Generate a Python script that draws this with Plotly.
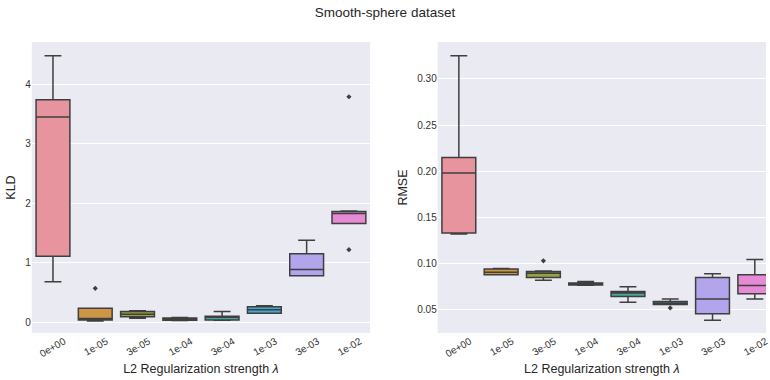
import plotly.graph_objects as go

categories = ["0e+00", "1e-05", "3e-05", "1e-04", "3e-04", "1e-03", "3e-03", "1e-02"]
colors = ["#e8949f", "#cd9645", "#9aa141", "#4ea36b", "#45a89e", "#47a7cf", "#b2a5eb", "#e68ad5"]

# KLD box statistics
kld_lo = [0.68, 0.02, 0.067, 0.03, 0.034, 0.15, 0.78, 1.66]
kld_q1 = [1.11, 0.04, 0.095, 0.034, 0.04, 0.15, 0.78, 1.66]
kld_med = [3.45, 0.065, 0.135, 0.05, 0.085, 0.21, 0.885, 1.83]
kld_q3 = [3.74, 0.235, 0.18, 0.073, 0.10, 0.26, 1.15, 1.86]
kld_hi = [4.48, 0.235, 0.195, 0.08, 0.18, 0.28, 1.38, 1.87]
kld_out_x = ["1e-05", "1e-02", "1e-02"]
kld_out_y = [0.57, 3.79, 1.22]

# RMSE box statistics
rmse_lo = [0.132, 0.088, 0.082, 0.0765, 0.058, 0.0558, 0.0385, 0.0615]
rmse_q1 = [0.133, 0.088, 0.085, 0.0767, 0.0644, 0.0558, 0.0457, 0.0673]
rmse_med = [0.198, 0.0907, 0.0896, 0.0778, 0.068, 0.057, 0.0615, 0.0763]
rmse_q3 = [0.215, 0.094, 0.0915, 0.079, 0.0698, 0.059, 0.085, 0.0878]
rmse_hi = [0.325, 0.0947, 0.092, 0.0806, 0.075, 0.0615, 0.089, 0.1044]
rmse_out_x = ["3e-05", "1e-03"]
rmse_out_y = [0.103, 0.052]

LINE = "#3f3f3f"
fig = go.Figure()

def add_boxes(lo, q1, med, q3, hi, ox, oy, xa, ya):
    for i, c in enumerate(categories):
        fig.add_trace(go.Box(
            x=[c], lowerfence=[lo[i]], q1=[q1[i]], median=[med[i]], q3=[q3[i]],
            upperfence=[hi[i]], width=0.8, whiskerwidth=0.5,
            fillcolor=colors[i], line=dict(color=LINE, width=1.5),
            boxpoints=False, showlegend=False, xaxis=xa, yaxis=ya, hoverinfo="skip"))
    fig.add_trace(go.Scatter(
        x=ox, y=oy, mode="markers", xaxis=xa, yaxis=ya, showlegend=False,
        marker=dict(symbol="diamond", size=4, color=LINE)))

add_boxes(kld_lo, kld_q1, kld_med, kld_q3, kld_hi, kld_out_x, kld_out_y, "x", "y")
add_boxes(rmse_lo, rmse_q1, rmse_med, rmse_q3, rmse_hi, rmse_out_x, rmse_out_y, "x2", "y2")

font = "Liberation Sans, Arial, sans-serif"
xlab = "L2 Regularization strength <i>λ</i>"
common_x = dict(type="category", categoryorder="array", categoryarray=categories,
                showgrid=False, zeroline=False, tickangle=-30, ticks="",
                tickfont=dict(size=10, color="#333333"), ticklabelshift=11,
                title=dict(text=xlab, font=dict(size=12.5, color="#262626"), standoff=6))
common_y = dict(showgrid=True, gridcolor="white", gridwidth=1, zeroline=False, ticks="",
                tickfont=dict(size=10, color="#333333"))

fig.update_layout(
    width=770, height=380,
    margin=dict(l=0, r=0, t=0, b=0),
    paper_bgcolor="white", plot_bgcolor="#eaeaf2",
    font=dict(family=font, color="#262626"),
    title=dict(text="Smooth-sphere dataset", x=0.5, xanchor="center", y=0.968, yanchor="middle",
               font=dict(size=13.5, color="#262626")),
    xaxis=dict(domain=[32/770, 372/770], range=[-0.5, 7.5], anchor="y", **common_x),
    xaxis2=dict(domain=[440/770, 1.0], range=[-0.5, 7.265], anchor="y2", **common_x),
    yaxis=dict(domain=[47/380, 338/380], range=[-0.18, 4.71], anchor="x",
               tickvals=[0, 1, 2, 3, 4], ticktext=["0", "1", "2", "3", "4"],
               title=dict(text="KLD", font=dict(size=12.5, color="#262626"), standoff=6), **common_y),
    yaxis2=dict(domain=[47/380, 338/380], range=[0.0248, 0.34], anchor="x2",
                tickvals=[0.05, 0.10, 0.15, 0.20, 0.25, 0.30],
                ticktext=["0.05", "0.10", "0.15", "0.20", "0.25", "0.30"],
                title=dict(text="RMSE", font=dict(size=12.5, color="#262626"), standoff=6), **common_y),
)

fig.write_html("out.html")
